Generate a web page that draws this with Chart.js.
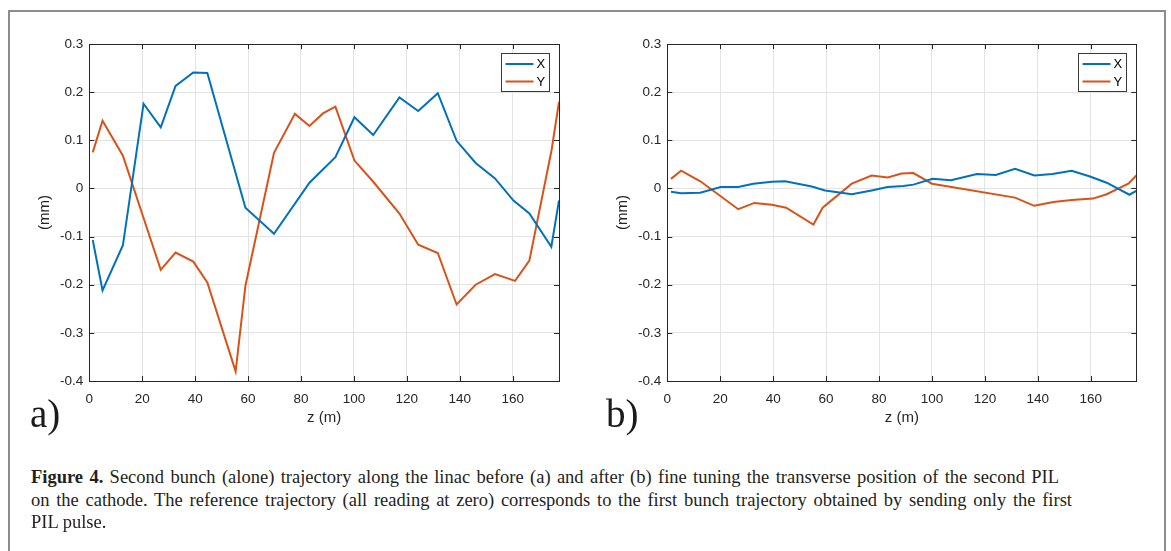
<!DOCTYPE html>
<html>
<head>
<meta charset="utf-8">
<script src="https://cdn.jsdelivr.net/npm/chart.js@4"></script>
<style>
  html, body { margin: 0; padding: 0; background: #fff; width: 1171px; height: 551px; overflow: hidden; }
  #frame { position: absolute; left: 8px; top: 10px; width: 1154px; height: 600px; border: 2px solid #8c8c8c; }
  canvas { position: absolute; }
  .tag { position: absolute; font-family: "Liberation Serif", serif; font-size: 39px; line-height: 39px; color: #1a1a1a; }
  .cap { position: absolute; left: 31px; font-family: "Liberation Serif", serif; font-size: 18.5px; line-height: 22px; color: #231f20; white-space: nowrap; }
</style>
</head>
<body>
<div id="frame"></div>
<canvas id="chartA" width="552" height="400" style="left:19px; top:30px;"></canvas>
<canvas id="chartB" width="552" height="400" style="left:597px; top:30px;"></canvas>
<div class="tag" style="left:30px; top:394px;">a)</div>
<div class="tag" style="left:606px; top:394px;">b)</div>
<div class="cap just" style="top:466px;"><b>Figure 4.</b> Second bunch (alone) trajectory along the linac before (a) and after (b) fine tuning the transverse position of the second PIL</div>
<div class="cap just" style="top:489px;">on the cathode. The reference trajectory (all reading at zero) corresponds to the first bunch trajectory obtained by sending only the first</div>
<div class="cap" style="top:511px;">PIL pulse.</div>

<script>
// axis ticks
const xTicks = [0, 20, 40, 60, 80, 100, 120, 140, 160];
const yTicks = [-0.4, -0.3, -0.2, -0.1, 0, 0.1, 0.2, 0.3];
const yTickLabels = ['-0.4', '-0.3', '-0.2', '-0.1', '0', '0.1', '0.2', '0.3'];

// a) before tuning
const zXa = [1.3, 5, 12.7, 20.5, 27, 32.6, 39.3, 44.6, 59, 69.8, 83.2, 93, 100.2, 107.3, 117.2, 124.3, 131.7, 138.8, 146, 153.3, 160.3, 166.3, 174.6, 177.5];
const xA = [-0.107, -0.212, -0.118, 0.176, 0.127, 0.213, 0.241, 0.240, -0.040, -0.094, 0.012, 0.065, 0.148, 0.111, 0.189, 0.161, 0.198, 0.099, 0.053, 0.021, -0.025, -0.052, -0.121, -0.025];
const zYa = [1.3, 5, 12.7, 27, 32.6, 39.3, 44.6, 55.3, 59, 69.8, 77.7, 83.2, 88.3, 93, 100.2, 107.3, 117.2, 124.3, 131.7, 138.8, 146, 153.3, 160.9, 166.3, 174.7, 177.5];
const yA = [0.075, 0.141, 0.068, -0.169, -0.133, -0.152, -0.195, -0.380, -0.202, 0.074, 0.155, 0.130, 0.156, 0.170, 0.058, 0.014, -0.052, -0.117, -0.134, -0.241, -0.200, -0.178, -0.192, -0.150, 0.080, 0.180];

// b) after tuning
const zXb = [1.4, 5.2, 12.4, 20.2, 26.8, 32.5, 39.5, 44.5, 54.6, 59.6, 69.7, 77.2, 83.2, 89.2, 93, 100.2, 107.2, 117, 124.1, 131.4, 138.7, 145.5, 152.8, 159.7, 166, 174.6, 177.2];
const xB = [-0.007, -0.010, -0.009, 0.003, 0.003, 0.010, 0.014, 0.015, 0.004, -0.004, -0.012, -0.004, 0.003, 0.005, 0.008, 0.020, 0.017, 0.030, 0.028, 0.041, 0.027, 0.030, 0.037, 0.025, 0.012, -0.013, -0.005];
const zYb = [1.4, 5.2, 12.5, 26.8, 32.9, 39.5, 44.9, 55.2, 58.7, 69.7, 77.2, 83.3, 88.5, 93, 100, 131.4, 138.6, 145.9, 152.8, 160.8, 166, 174.2, 177.2];
const yB = [0.020, 0.037, 0.015, -0.043, -0.030, -0.034, -0.040, -0.075, -0.040, 0.010, 0.027, 0.023, 0.031, 0.032, 0.010, -0.019, -0.036, -0.028, -0.024, -0.021, -0.012, 0.010, 0.027];

const blue = '#0072BD';
const red = '#D95319';
const axisColor = '#262626';
const gridColor = '#e3e3e3';

const matlabAxes = {
  id: 'matlabAxes',
  afterDatasetsDraw(chart) {
    const { ctx, chartArea: a, scales } = chart;
    ctx.save();
    ctx.strokeStyle = axisColor;
    ctx.lineWidth = 1;
    ctx.beginPath();
    xTicks.forEach(v => {
      const px = Math.round(scales.x.getPixelForValue(v)) + 0.5;
      ctx.moveTo(px, a.bottom); ctx.lineTo(px, a.bottom - 5);
      ctx.moveTo(px, a.top); ctx.lineTo(px, a.top + 5);
    });
    yTicks.forEach(v => {
      const py = Math.round(scales.y.getPixelForValue(v)) + 0.5;
      ctx.moveTo(a.left, py); ctx.lineTo(a.left + 5, py);
      ctx.moveTo(a.right, py); ctx.lineTo(a.right - 5, py);
    });
    ctx.stroke();
    ctx.strokeRect(Math.round(a.left) + 0.5, Math.round(a.top) + 0.5, Math.round(a.right - a.left), Math.round(a.bottom - a.top));

    // legend box, top right inside the axes
    const w = 48, h = 38;
    const lx = Math.round(a.right - 10 - w) + 0.5;
    const ly = Math.round(a.top + 9) + 0.5;
    ctx.fillStyle = '#fff';
    ctx.fillRect(lx, ly, w, h);
    ctx.strokeStyle = '#3a3a3a';
    ctx.strokeRect(lx, ly, w, h);
    ctx.font = '13px "Liberation Sans", Arial, sans-serif';
    ctx.textBaseline = 'middle';
    chart.data.datasets.forEach((ds, i) => {
      const y = ly + 10.5 + i * 17.5;
      ctx.strokeStyle = ds.borderColor;
      ctx.lineWidth = 2;
      ctx.beginPath();
      ctx.moveTo(lx + 4, y); ctx.lineTo(lx + 32, y);
      ctx.stroke();
      ctx.fillStyle = '#000';
      ctx.fillText(ds.label, lx + 35, y + 0.5);
    });
    ctx.restore();
  }
};

function makeChart(id, zX, xs, zY, ys, xMax, padRight) {
  return new Chart(document.getElementById(id), {
    type: 'line',
    data: {
      datasets: [
        { label: 'X', data: zX.map((z, i) => ({ x: z, y: xs[i] })), borderColor: blue, borderWidth: 2, pointRadius: 0, tension: 0 },
        { label: 'Y', data: zY.map((z, i) => ({ x: z, y: ys[i] })), borderColor: red, borderWidth: 2, pointRadius: 0, tension: 0 }
      ]
    },
    options: {
      responsive: false,
      animation: false,
      devicePixelRatio: 1,
      layout: { padding: { top: 12.3, right: padRight, bottom: 0, left: 0 } },
      plugins: { legend: { display: false }, tooltip: { enabled: false } },
      scales: {
        x: {
          type: 'linear', min: 0, max: xMax,
          afterBuildTicks: s => { s.ticks = xTicks.map(v => ({ value: v })); },
          afterFit: s => { s.height = 49; },
          grid: { color: gridColor, drawTicks: false },
          border: { display: false },
          ticks: { color: axisColor, padding: 10, font: { family: '"Liberation Sans", Arial, sans-serif', size: 13.5 } },
          title: { display: true, text: 'z (m)', color: axisColor, padding: { top: 0, bottom: 3 }, font: { family: '"Liberation Sans", Arial, sans-serif', size: 15 } }
        },
        y: {
          min: -0.4, max: 0.3,
          afterBuildTicks: s => { s.ticks = yTicks.map(v => ({ value: v })); },
          afterFit: s => { s.width = 70.3; },
          grid: { color: gridColor, drawTicks: false },
          border: { display: false },
          ticks: {
            color: axisColor, padding: 6,
            font: { family: '"Liberation Sans", Arial, sans-serif', size: 13.5 },
            callback: (v, i) => yTickLabels[i]
          },
          title: { display: true, text: '(mm)', color: axisColor, padding: { top: 17, bottom: 0 }, font: { family: '"Liberation Sans", Arial, sans-serif', size: 15 } }
        }
      }
    },
    plugins: [matlabAxes]
  });
}

makeChart('chartA', zXa, xA, zYa, yA, 177.5, 12);
makeChart('chartB', zXb, xB, zYb, yB, 177.2, 12.7);

// stretch the justified caption lines to the reference widths
const capTargets = [1028, 1041];
document.querySelectorAll('.cap.just').forEach((el, i) => {
  const w = el.getBoundingClientRect().width;
  const gaps = el.textContent.split(' ').length - 1;
  el.style.wordSpacing = ((capTargets[i] - w) / gaps) + 'px';
});
</script>
</body>
</html>
